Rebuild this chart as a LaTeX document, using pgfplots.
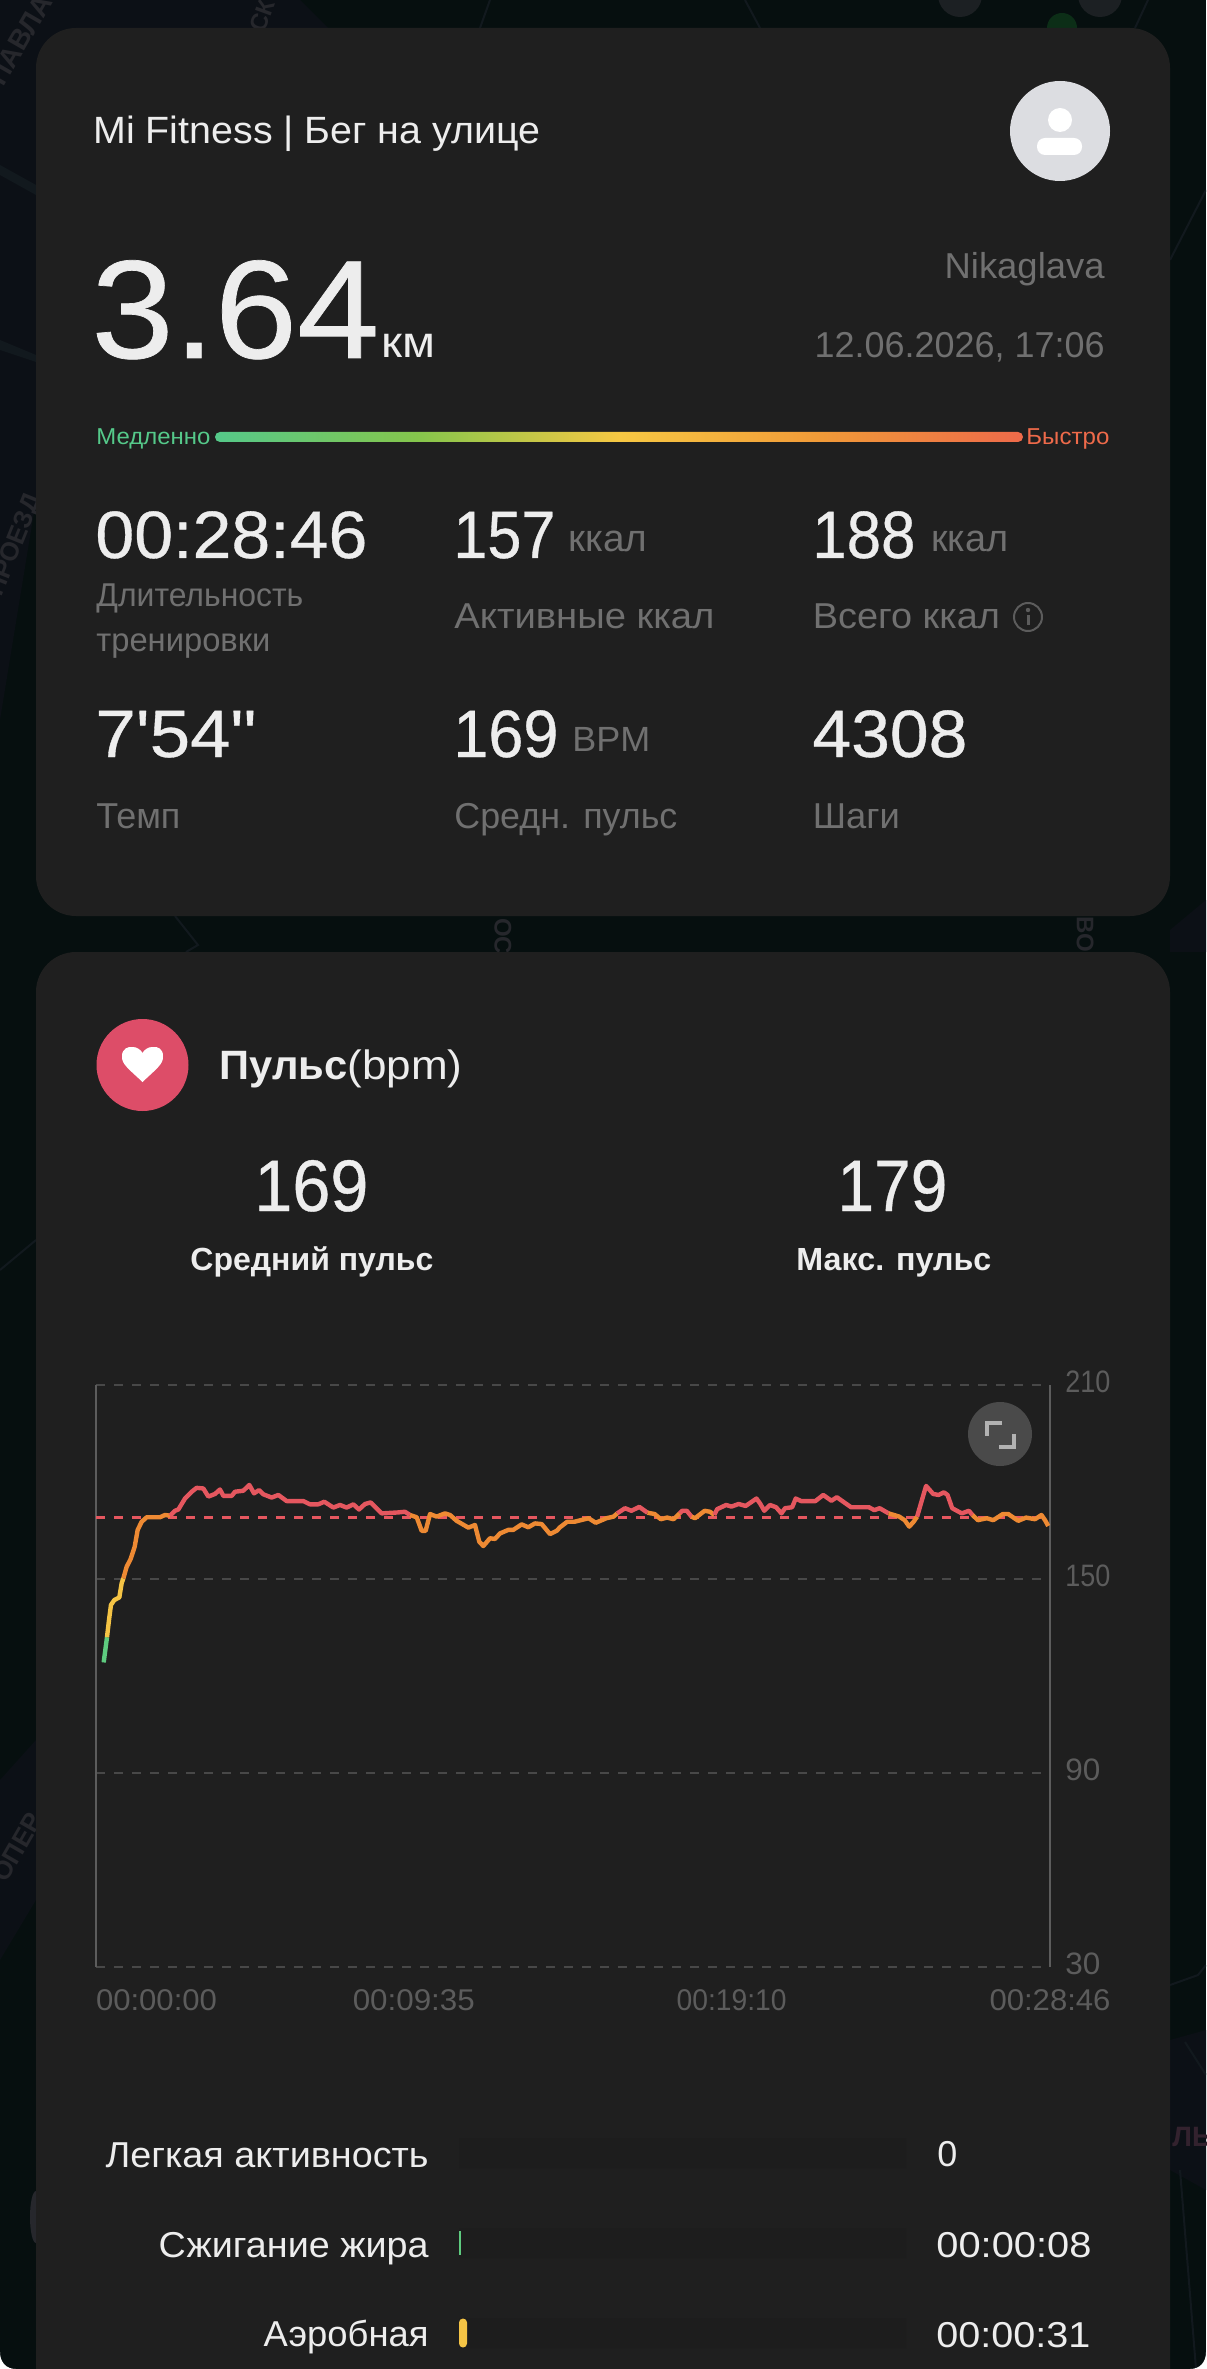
\documentclass[border=0pt]{standalone}
\usepackage{fontspec}
\usepackage{graphicx}
\usepackage{pgfplots}
\pgfplotsset{compat=1.18}
\setmainfont{Liberation Sans}
\newfontfamily\medf[FakeBold=0.5]{Liberation Sans}
\definecolor{bgc}{HTML}{060F0F}
\definecolor{card}{HTML}{1F1F1F}
\definecolor{wht}{HTML}{EDEDED}
\definecolor{gra}{HTML}{707070}
\definecolor{tick}{HTML}{5C5C5C}
\definecolor{grd}{HTML}{484848}
\definecolor{lred}{HTML}{E5575F}
\definecolor{lora}{HTML}{EE8A33}
\definecolor{lyel}{HTML}{F5C445}
\definecolor{lgrn}{HTML}{5ECB7F}
\definecolor{map}{HTML}{26272C}
\definecolor{road}{HTML}{12191E}
\definecolor{fastc}{HTML}{EE6A4A}
\definecolor{slowc}{HTML}{55C98A}
\definecolor{midg}{HTML}{85C64C}
\definecolor{pcor}{HTML}{F19A38}
\definecolor{pyel}{HTML}{F7C843}
\definecolor{avac}{HTML}{DCDDE1}
\definecolor{btn}{HTML}{4A4A4A}
\definecolor{hrt}{HTML}{DD4D68}
\definecolor{ljb}{HTML}{33222E}
\definecolor{navy}{HTML}{0C1016}
\definecolor{dgrn}{HTML}{0C2E17}
\pgfdeclarehorizontalshading{pace}{100bp}{color(0bp)=(slowc); color(25bp)=(slowc); color(37.5bp)=(midg); color(50bp)=(pyel); color(62.5bp)=(pcor); color(75bp)=(fastc); color(100bp)=(fastc)}
\newcommand{\Txt}[7]{\node[anchor=#1,inner sep=0pt,text=#6] at (#2,#3) {\fontsize{#4pt}{#4pt}\selectfont\resizebox{\dimexpr#5pt/2\relax}{\height}{#7}};}
\begin{document}
\begin{tikzpicture}[x=0.5pt,y=-0.5pt]
\useasboundingbox (0,0) rectangle (1206,2369);
\begin{scope}
\clip (0,0) rectangle (1206,2369);
% map background
\fill[bgc] (0,0) rectangle (1206,2369);
\fill[navy] (0,0) -- (300,0) -- (360,60) -- (36,500) -- (0,720) -- cycle;
\fill[road] (0,165) -- (36,185) -- (36,195) -- (0,175) -- cycle;
\fill[road] (0,340) -- (36,355) -- (36,362) -- (0,350) -- cycle;
\fill[navy] (1170,930) -- (1206,900) -- (1206,952) -- (1170,952) -- cycle;
\fill[navy] (0,1780) -- (36,1740) -- (36,1900) -- (0,1960) -- cycle;
\fill[navy] (1170,2040) -- (1206,2030) -- (1206,2190) -- (1170,2170) -- cycle;
\draw[road,line width=1pt] (1170,1985) -- (1198,1975) -- (1206,1965);
\draw[road,line width=1pt] (1185,2042) -- (1206,2075);
\draw[road,line width=1pt] (1180,2170) -- (1196,2369);
\draw[road,line width=1pt] (175,916) -- (198,945) -- (186,952);
\draw[road,line width=1pt] (480,28) -- (490,0);
\draw[road,line width=1pt] (745,0) -- (760,28);
\draw[road,line width=1pt] (1135,28) -- (1148,0);
\draw[road,line width=1pt] (1170,260) -- (1206,190);
\draw[road,line width=1pt] (0,1270) -- (36,1240);
\fill[dgrn] (1062,28) circle[radius=15];
\fill[map!70!bgc] (960,-5) circle[radius=22];
\fill[map!70!bgc] (1100,-5) circle[radius=22];
\fill[map] (36,2217) ellipse[x radius=6, y radius=26];
\node[text=map,font=\bfseries\fontsize{14pt}{14pt}\selectfont,rotate=60,inner sep=0pt] at (20,40) {ПАВЛА};
\node[text=map,font=\bfseries\fontsize{13pt}{13pt}\selectfont,rotate=68,inner sep=0pt,anchor=east] at (36,495) {ПРОЕЗД};
\node[text=map,font=\bfseries\fontsize{12pt}{12pt}\selectfont,rotate=70,inner sep=0pt] at (262,16) {СК};
\node[text=map,font=\bfseries\fontsize{12pt}{12pt}\selectfont,rotate=-90,inner sep=0pt] at (503,936) {ОС};
\node[text=map,font=\bfseries\fontsize{12pt}{12pt}\selectfont,rotate=-90,inner sep=0pt] at (1085,934) {ВО};
\node[text=map,font=\bfseries\fontsize{13pt}{13pt}\selectfont,rotate=60,inner sep=0pt,anchor=east] at (36,1815) {ОПЕР};
\node[text=ljb,font=\bfseries\fontsize{14pt}{14pt}\selectfont,inner sep=0pt,anchor=base west] at (1172,2146) {ЛЬ};
% cards
\fill[card,rounded corners=20pt] (36,28) rectangle (1170,916);
\fill[card,rounded corners=20pt] (36,952) rectangle (1170,2500);
% white screenshot corners
\fill[white] (1206,2369) -- (1190,2369) .. controls (1200,2369) and (1206,2362) .. (1206,2352) -- cycle;
\fill[white] (0,2369) -- (16,2369) .. controls (6,2369) and (0,2362) .. (0,2352) -- cycle;
% header
\Txt{base west}{93}{144}{19}{447}{wht}{Mi Fitness | Бег на улице}
\fill[avac] (1060,131) circle[radius=50];
\fill[white] (1060,120) circle[radius=12];
\fill[white,rounded corners=4pt] (1037,138) rectangle (1082,155);
\Txt{base west}{91}{358}{70}{288}{wht}{\medf 3.64}
\Txt{base west}{381}{358}{22}{54}{wht}{км}
\Txt{base east}{1105}{279}{18}{160}{gra}{Nikaglava}
\Txt{base east}{1105}{358}{18}{290}{gra}{12.06.2026, 17:06}
\Txt{base west}{96}{445}{11.5}{114}{slowc}{Медленно}
\Txt{base west}{1026}{445}{11.5}{83}{fastc}{Быстро}
\path[shading=pace,rounded corners=2.5pt] (215,432) rectangle (1023,442);
% stats
\Txt{base west}{95}{558}{33.5}{272}{wht}{\medf 00:28:46}
\Txt{base west}{453}{558}{33.5}{102}{wht}{\medf 157}
\Txt{base west}{568}{552}{19}{79}{gra}{ккал}
\Txt{base west}{812}{558}{33.5}{103}{wht}{\medf 188}
\Txt{base west}{931}{552}{19}{77}{gra}{ккал}
\Txt{base west}{96}{607}{16.5}{207}{gra}{Длительность}
\Txt{base west}{96}{651}{16.5}{174}{gra}{тренировки}
\Txt{base west}{454}{628}{18}{260}{gra}{Активные ккал}
\Txt{base west}{812.5}{628}{18}{187}{gra}{Всего ккал}
\draw[tick,line width=1pt] (1028,617) circle[radius=14];
\fill[tick] (1028,610) circle[radius=2.2];
\fill[tick] (1026.5,615) rectangle (1029.5,625);
\Txt{base west}{95}{757}{33.5}{161}{wht}{\medf 7'54"}
\Txt{base west}{453}{757}{33.5}{105}{wht}{\medf 169}
\Txt{base west}{572}{751}{17.5}{78}{gra}{BPM}
\Txt{base west}{812}{757}{33.5}{155}{wht}{\medf 4308}
\Txt{base west}{96}{828}{18}{84}{gra}{Темп}
\Txt{base west}{454}{828}{18}{223}{gra}{Средн. пульс}
\Txt{base west}{812.5}{828}{18}{87}{gra}{Шаги}
% pulse header
\fill[hrt] (142.5,1065) circle[radius=46];
\fill[white] (142.5,1082) .. controls (130,1070) and (121,1064) .. (122,1056) .. controls (122,1049) and (128,1046) .. (133,1047) .. controls (137,1047) and (141,1050) .. (142.5,1053) .. controls (144,1050) and (148,1047) .. (152,1047) .. controls (158,1046) and (163,1049) .. (163,1056) .. controls (164,1064) and (155,1070) .. (142.5,1082) -- cycle;
\Txt{base west}{219}{1079}{20.5}{128}{wht}{\bfseries Пульс}
\Txt{base west}{347}{1079}{20.5}{115}{wht}{(bpm)}
\Txt{base west}{254}{1211}{36.5}{114}{wht}{\medf 169}
\Txt{base west}{837}{1211}{36.5}{110}{wht}{\medf 179}
\Txt{base west}{190}{1270}{16}{243}{wht}{\bfseries Средний пульс}
\Txt{base west}{796}{1270}{16}{195}{wht}{\bfseries Макс. пульс}
% legend text
\Txt{base east}{429}{2167}{18}{323}{wht}{Легкая активность}
\Txt{base east}{429}{2257}{18}{270}{wht}{Сжигание жира}
\Txt{base east}{429}{2346}{18}{165}{wht}{Аэробная}
\Txt{base west}{937}{2166}{18}{20}{wht}{0}
\Txt{base west}{936}{2257}{18}{155}{wht}{00:00:08}
\Txt{base west}{936}{2347}{18}{154}{wht}{00:00:31}
% zone bars
\begin{axis}[at={(229.5pt,-1184.5pt)},anchor=south west,scale only axis,width=223.5pt,height=130.5pt,
  hide axis,xmin=0,xmax=1726,ymin=-0.5,ymax=2.4,y dir=reverse,xbar,bar shift=0pt,clip=false]
\addplot[fill=card!92!black,draw=none,bar width=15pt] coordinates {(1726,0) (1726,1) (1726,2)};
\addplot[fill=lgrn,draw=none,bar width=12pt] coordinates {(8,1)};
\addplot[fill=lyel,draw=none,bar width=14.5pt,rounded corners=2pt] coordinates {(31,2)};
\end{axis}
% chart
\begin{axis}[at={(48pt,-983.5pt)},anchor=south west,scale only axis,width=477pt,height=291pt,
  xmin=0,xmax=1726,ymin=30,ymax=210,clip=false,
  separate axis lines,
  every outer x axis line/.style={draw=none},
  every outer y axis line/.style={draw=tick,line width=1pt},
  ymajorgrids,grid style={draw=grd,line width=1pt,dash pattern=on 4.5pt off 4.5pt},
  major tick length=0pt,
  xtick={0,575,1150,1726},
  xticklabels={\makebox[0pt][l]{\resizebox{60.5pt}{\height}{00:00:00}},\resizebox{61pt}{\height}{00:09:35},\resizebox{55pt}{\height}{00:19:10},\resizebox{60.5pt}{\height}{00:28:46}},
  ytick={30,90,150,210},
  yticklabels={\resizebox{17.5pt}{\height}{30},\resizebox{17.5pt}{\height}{90},\resizebox{22.5pt}{\height}{150},\resizebox{22.5pt}{\height}{210}},
  yticklabel pos=right,
  xticklabel style={anchor=base,yshift=-21.5pt,inner sep=0pt,text=tick,font=\fontsize{15pt}{15pt}\selectfont},
  yticklabel style={anchor=west,xshift=7.5pt,yshift=1.75pt,inner sep=0pt,text=tick,font=\fontsize{15.5pt}{15.5pt}\selectfont},
]
\addplot[lred,line width=1.7pt,dash pattern=on 4.5pt off 4.5pt] coordinates {(0,169.1) (1726,169.1)};
\addplot[lgrn,line width=2.2pt] coordinates {(13.9,124.2) (19.9,132.0)};
\addplot[lyel,line width=2.2pt,line join=round] coordinates {(19.9,132.0) (23.5,137.3) (27.1,142.0) (33.2,143.5) (42.2,144.3) (46.4,148.7) (49.5,150.2)};
\addplot[lora,line width=2.2pt,line join=round] coordinates {(49.5,150.2) (55.5,153.8) (62.7,156.2) (70.0,160) (75.4,165.2) (82.6,167.7) (91.7,169.1) (115.8,169.1) (124.8,169.8) (133.9,169.6)};
\addplot[lred,line width=2.2pt,line join=round] coordinates {(133.9,169.6) (142.9,171.1) (149,171.5) (161,174.9) (173.1,177) (182.1,178.2) (194.2,178) (203.2,175.5) (215.3,176.3) (224.3,177.7) (230.4,175.7) (245.5,175.7) (251.5,177) (266.5,177.3) (277.4,179.1) (285.9,176.5) (294.9,177.5) (302.8,176.2) (317.8,175.2) (329.9,176) (345,174.1) (375.1,174.1) (387.2,173.1) (402.2,173.1) (413.1,173.9) (429.4,172.1) (441.4,172.9) (453.5,172.1) (465.6,173.1) (475.8,171.5) (486.7,173.2) (496.9,173.7) (516.9,170.3) (547,170.6) (559,170.8) (568.1,169.8)};
\addplot[lora,line width=2.2pt,line join=round] coordinates {(568.1,169.8) (580.2,169.1) (589.2,164.9) (596.4,164.9) (604.3,170.1) (616.3,169.3) (631.4,170.3) (640.5,169.8) (652.5,168) (673.6,165.9) (685.7,166.7) (693.5,161.5) (700.8,160.2) (712.8,162.6) (721.9,162.4) (730.9,164.1) (746,165.2) (755,165.2) (770.1,166.9) (782.2,166) (794.2,167.2) (806.3,167) (821.4,163.9) (833.4,164.9) (839.5,166) (852.4,167.7) (865.3,167.7) (891.2,168.8) (904.1,167.4) (923.5,168.8) (936.4,169.3) (942.9,170.3)};
\addplot[lred,line width=2.2pt,line join=round] coordinates {(942.9,170.3) (957.1,171.9) (968.7,171.1) (983,172.3) (997.8,170.5)};
\addplot[lora,line width=2.2pt,line join=round] coordinates {(997.8,170.5) (1010.7,170.1) (1021.7,168.5) (1033.3,169) (1045,168.5) (1056,170.3)};
\addplot[lred,line width=2.2pt,line join=round] coordinates {(1056,170.3) (1060.5,171.1) (1068.9,171.1) (1077.3,169.3)};
\addplot[lora,line width=2.2pt,line join=round] coordinates {(1077.3,169.3) (1083.7,168.8) (1101.2,171.1) (1110.9,170.8) (1118.6,169.8)};
\addplot[lred,line width=2.2pt,line join=round] coordinates {(1118.6,169.8) (1123.8,171.6) (1140,172.9) (1149.7,172.4) (1162.6,173.2) (1175.5,172.6) (1194.9,174.9) (1201.3,173.4) (1209.1,171.1) (1219.4,172.9) (1230.4,172.2) (1240.1,170.3) (1246.6,171.9) (1259.5,172.2) (1266,174.9) (1275.7,174.1) (1301.5,174.1) (1315.7,176) (1330.6,174.2) (1340.3,175.3) (1366.1,172.2) (1398.4,172.2) (1408.1,171.3) (1417.8,171.9) (1434,170.3)};
\addplot[lora,line width=2.2pt,line join=round] coordinates {(1434,170.3) (1453.3,169.3) (1463,168.2) (1471.4,166.2) (1479.2,167.7) (1485.6,169.3)};
\addplot[lred,line width=2.2pt,line join=round] coordinates {(1485.6,169.3) (1490.8,172.4) (1501.8,178.8) (1514.7,176.3) (1524.4,176) (1534.1,176.8) (1540.6,176) (1549,171.9) (1566.4,170.3) (1579.3,171.1) (1585.8,169.8)};
\addplot[lora,line width=2.2pt,line join=round] coordinates {(1585.8,169.8) (1595.5,168.2) (1611.7,168.8) (1623.3,168.2) (1640.7,170.1) (1650.4,170.1) (1668.5,168) (1682.7,169) (1698.9,168.5) (1710.5,169.8) (1717,168.2) (1722.8,166.4)};
\end{axis}
% expand button
\fill[btn] (1000,1434) circle[radius=32];
\draw[white!70!black,line width=2pt] (987,1436) -- (987,1423) -- (1002,1423);
\draw[white!70!black,line width=2pt] (1014,1434) -- (1014,1447) -- (999,1447);
\end{scope}
\end{tikzpicture}
\end{document}
